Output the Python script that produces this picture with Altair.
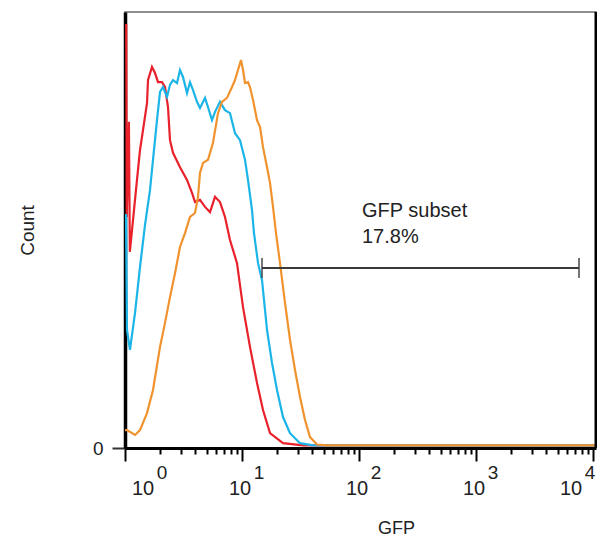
import altair as alt
import pandas as pd

# ---------------- data ----------------
RED_GFP = [1.0, 1.025, 1.035, 1.08, 1.10, 1.171, 1.266, 1.343, 1.425, 1.542, 1.573, 1.701, 1.805,
           1.915, 2.072, 2.197, 2.331, 2.424, 2.572, 2.952, 3.388, 3.738, 3.965, 4.375, 4.829,
           5.328, 5.878, 6.486, 7.156, 7.896, 9.064, 10.20, 11.70, 13.44, 15.12, 17.35, 22.41,
           33.22, 10600]
RED_COUNT = [97.0, 97.0, 53.0, 74.8, 45.0, 52.3, 61.5, 68.3, 72.9, 79.1, 84.4, 87.4, 86.0,
             83.9, 83.9, 82.8, 78.2, 70.6, 67.7, 64.4, 61.5, 58.5, 56.4, 56.9, 55.3,
             54.1, 57.6, 56.4, 53.0, 47.7, 42.4, 32.3, 23.2, 14.9, 8.7, 3.4, 1.1,
             0.6, 0.6]

CYAN_GFP = [1.0, 1.02, 1.04, 1.103, 1.218, 1.343, 1.482, 1.636, 1.735, 1.877, 1.992, 2.113,
            2.286, 2.424, 2.572, 2.783, 2.952, 3.131, 3.388, 3.594, 3.813, 4.124, 4.375, 4.829,
            5.122, 5.542, 5.878, 6.486, 7.156, 7.896, 8.713, 9.614, 10.61, 11.25, 12.17, 12.66,
            13.71, 14.83, 16.36, 18.05, 19.92, 22.41, 25.73, 31.32, 40.45, 10600]
CYAN_COUNT = [53.4, 53.4, 27.1, 22.5, 31.0, 41.5, 51.1, 59.2, 66.1, 75.2, 81.7, 82.8,
              80.5, 83.3, 84.4, 83.7, 86.7, 85.1, 81.4, 83.9, 82.1, 79.4, 78.0, 80.3,
              78.2, 75.2, 77.1, 79.4, 77.5, 76.8, 72.2, 70.6, 66.1, 61.5, 54.6, 49.3,
              42.4, 38.5, 27.1, 19.5, 13.3, 7.1, 3.4, 1.1, 0.6, 0.6]

ORANGE_GFP = [1.0, 1.04, 1.218, 1.343, 1.542, 1.735, 1.992, 2.197, 2.424, 2.676, 2.952, 3.257,
              3.594, 3.965, 4.207, 4.375, 4.642, 5.122, 5.651, 6.235, 6.746, 7.443, 8.214, 8.713,
              9.244, 9.805, 10.20, 10.61, 11.25, 11.70, 12.42, 13.44, 14.26, 15.12, 16.36, 17.35,
              18.41, 19.53, 21.13, 23.31, 25.73, 28.38, 31.32, 34.56, 38.13, 43.75, 53.28, 10600]
ORANGE_COUNT = [4.1, 4.1, 3.0, 4.1, 8.0, 13.3, 23.2, 28.7, 34.6, 40.1, 46.1, 49.3,
                53.0, 53.9, 57.6, 63.1, 65.4, 66.1, 70.0, 76.8, 79.4, 80.3, 82.8, 84.4,
                86.7, 89.0, 86.7, 83.7, 83.9, 82.8, 79.8, 75.2, 73.6, 69.0, 64.4, 60.8,
                55.3, 49.3, 42.4, 33.3, 24.8, 17.9, 11.7, 6.4, 2.5, 0.8, 0.6, 0.6]

GATE_LO = 14.83
GATE_HI = 7590
GATE_Y = 41.3
GATE_TEXT = ["GFP subset", "17.8%"]
GATE_TEXT_X = [106, 106]
GATE_TEXT_Y = [53.0, 47.1]

LABEL_POS = [1, 10, 100, 1000, 10000]
EXPONENTS = ["0", "1", "2", "3", "4"]
TICKS = [m * 10 ** k for k in range(4) for m in range(1, 10)] + [10000]

X_MAX = 10607
Y_MAX = 100

FONT = "Liberation Sans"
TXT = "#222222"

# ---------------- scales and axes ----------------
xscale = alt.Scale(type="log", domain=[1, X_MAX], nice=False)
yscale = alt.Scale(domain=[0, Y_MAX], nice=False)

xaxis = alt.Axis(
    values=TICKS, labels=False, grid=False,
    tickSize={"condition": {"test": "indexof([1,10,100,1000,10000], datum.value) >= 0", "value": 13}, "value": 6},
    tickWidth=2, tickColor="black", domainColor="black", domainWidth=3,
    title="GFP", titleX=271, titleY=85, titleAlign="center", titleBaseline="alphabetic",
    titleFontSize=18, titleFontWeight="normal", titleColor=TXT, titleFont=FONT,
)
yaxis = alt.Axis(
    values=[0], grid=False, tickSize=13, tickWidth=2, tickColor="#333333",
    domainColor="black", domainWidth=3.5,
    labelFontSize=19, labelPadding=9, labelColor=TXT, labelFont=FONT,
    title="Count", titleX=-92, titleY=218, titleAlign="center", titleBaseline="alphabetic",
    titleAngle=-90, titleFontSize=19, titleFontWeight="normal", titleColor=TXT, titleFont=FONT,
)


def curve(gfp, count, color):
    df = pd.DataFrame({"gfp": gfp, "count": count})
    return alt.Chart(df).mark_line(color=color, strokeWidth=2.2, interpolate="linear").encode(
        x=alt.X("gfp:Q", scale=xscale, axis=xaxis),
        y=alt.Y("count:Q", scale=yscale, axis=yaxis),
    )


red = curve(RED_GFP, RED_COUNT, "#e8212b")
cyan = curve(CYAN_GFP, CYAN_COUNT, "#1cb5e8")
orange = curve(ORANGE_GFP, ORANGE_COUNT, "#f0932e")

# gate bar
gate_df = pd.DataFrame({"lo": [GATE_LO], "hi": [GATE_HI], "y": [GATE_Y]})
gate = alt.Chart(gate_df).mark_rule(color="#3a3a3a", strokeWidth=2).encode(
    x=alt.X("lo:Q", scale=xscale, axis=xaxis), x2="hi:Q",
    y=alt.Y("y:Q", scale=yscale, axis=yaxis),
)
caps_df = pd.DataFrame({"x": [GATE_LO, GATE_HI], "y": [GATE_Y, GATE_Y]})
caps = alt.Chart(caps_df).mark_tick(orient="vertical", size=20, thickness=2, color="#3a3a3a").encode(
    x=alt.X("x:Q", scale=xscale, axis=xaxis),
    y=alt.Y("y:Q", scale=yscale, axis=yaxis),
)
gtext_df = pd.DataFrame({"x": GATE_TEXT_X, "y": GATE_TEXT_Y, "t": GATE_TEXT})
gtext = alt.Chart(gtext_df).mark_text(align="left", baseline="alphabetic", fontSize=20,
                                      color=TXT, font=FONT).encode(
    x=alt.X("x:Q", scale=xscale, axis=xaxis),
    y=alt.Y("y:Q", scale=yscale, axis=yaxis),
    text="t:N",
)

# x tick labels 10^k
lab_df = pd.DataFrame({"pos": LABEL_POS, "exp": EXPONENTS})


def label_layers(expr, dx_base):
    base = alt.Chart(lab_df).transform_filter(expr).mark_text(
        text="10", fontSize=20, align="center", baseline="alphabetic", dx=dx_base,
        color=TXT, font=FONT).encode(x=alt.X("pos:Q", scale=xscale, axis=xaxis), y=alt.value(483))
    sup = alt.Chart(lab_df).transform_filter(expr).mark_text(
        fontSize=19, align="center", baseline="alphabetic", dx=dx_base + 19,
        color=TXT, font=FONT).encode(x=alt.X("pos:Q", scale=xscale, axis=xaxis), y=alt.value(467),
                                     text="exp:N")
    return [base, sup]


labels = (label_layers("datum.pos == 1", 18)
          + label_layers("datum.pos > 1 && datum.pos < 10000", -2)
          + label_layers("datum.pos == 10000", -22))

# right frame border
border_df = pd.DataFrame({"v": [0]})
right = alt.Chart(border_df).mark_rule(color="black", strokeWidth=3).encode(
    x=alt.value(471), y=alt.value(0), y2=alt.value(436))

chart = alt.layer(red, cyan, orange, gate, caps, gtext, right, *labels).properties(
    width=471, height=436,
    padding={"left": 117, "top": 4, "right": 1, "bottom": 93},
    autosize=alt.AutoSizeParams(type="none"),
).configure(font=FONT).configure_view(stroke="#6a6a6a", strokeWidth=1.5)

chart.save("out.html", embed_options={"renderer": "svg", "actions": False})
